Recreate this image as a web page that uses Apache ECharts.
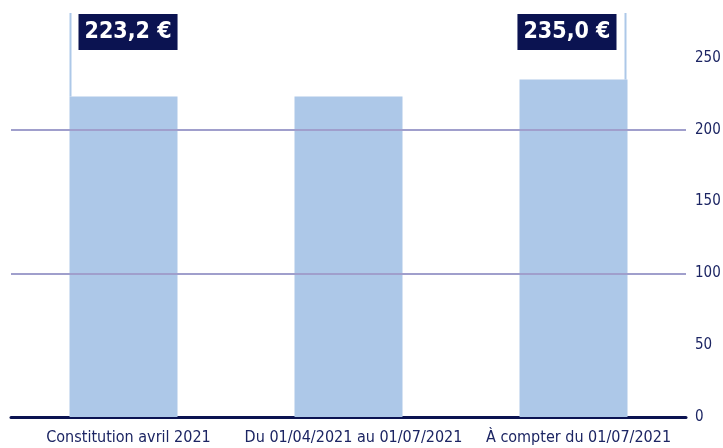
<!DOCTYPE html>
<html><head><meta charset="utf-8">
<script src="https://cdn.jsdelivr.net/npm/echarts@6/dist/echarts.min.js"></script>
<style>html,body{margin:0;padding:0;background:#fff}#c{width:723px;height:448px}</style>
</head><body><div id="c"></div>
<script>
const categories = ['Constitution avril 2021', 'Du 01/04/2021 au 01/07/2021', 'À compter du 01/07/2021'];
const values = [223.2, 223.2, 235.0];
const annotations = [[0, 223.2, '223,2 €', 'left'], [2, 235.0, '235,0 €', 'right']];
const gridValues = [100, 200];
const yMin = 0, yMax = 250, yStep = 50;

const FONT = '"Liberation Sans Narrow", "DejaVu Sans Condensed", sans-serif';
const NAVY = '#0b1351';
const BAR = '#adc8e8';
const BAR_FRAC = 0.48;

const chart = echarts.init(document.getElementById('c'), null, {renderer: 'canvas'});
chart.setOption({
  animation: false,
  grid: {left: 11, right: 37, top: 58, bottom: 31, containLabel: false, outerBoundsMode: 'none'},
  xAxis: {
    type: 'category', data: categories,
    axisLine: {lineStyle: {color: NAVY, width: 3}},
    axisTick: {show: false},
    axisLabel: {color: '#1c2563', fontFamily: FONT, fontSize: 16, margin: 13, interval: 0, padding: [0, 0, 0, 10]}
  },
  yAxis: {
    type: 'value', position: 'right', min: yMin, max: yMax, interval: yStep,
    axisLine: {show: false}, axisTick: {show: false}, splitLine: {show: false},
    axisLabel: {color: '#1c2563', fontFamily: FONT, fontSize: 15, margin: 9}
  },
  series: [{
    type: 'bar', data: values, barWidth: (BAR_FRAC * 100) + '%',
    itemStyle: {color: BAR},
    markLine: {
      silent: true, symbol: 'none', label: {show: false},
      lineStyle: {color: '#a09fcc', width: 2, type: 'solid'},
      data: gridValues.map(v => ({yAxis: v}))
    }
  }, {
    type: 'custom', clip: false, z: 5,
    data: annotations,
    renderItem: function (params, api) {
      const idx = api.value(0);
      const p = api.coord([idx, api.value(1)]);
      const catW = api.size([1, 0])[0];
      const half = catW * BAR_FRAC / 2;
      const side = annotations[params.dataIndex][3];
      const text = annotations[params.dataIndex][2];
      const topY = api.coord([idx, yMax])[1] - 45;
      const lx = side === 'left' ? p[0] - half + 1 : p[0] + half - 2;
      return {
        type: 'group',
        children: [{
          type: 'line',
          shape: {x1: lx, y1: p[1], x2: lx, y2: topY},
          style: {stroke: BAR, lineWidth: 2}
        }, {
          type: 'text',
          style: {
            text: text,
            x: side === 'left' ? lx + 8 : lx - 9,
            y: topY + 1,
            align: side === 'left' ? 'left' : 'right',
            verticalAlign: 'top',
            fill: '#fff',
            font: 'bold 23px ' + FONT,
            lineHeight: 28,
            backgroundColor: NAVY,
            padding: [4, 6, 4, 6]
          }
        }]
      };
    }
  }]
});
</script></body></html>
